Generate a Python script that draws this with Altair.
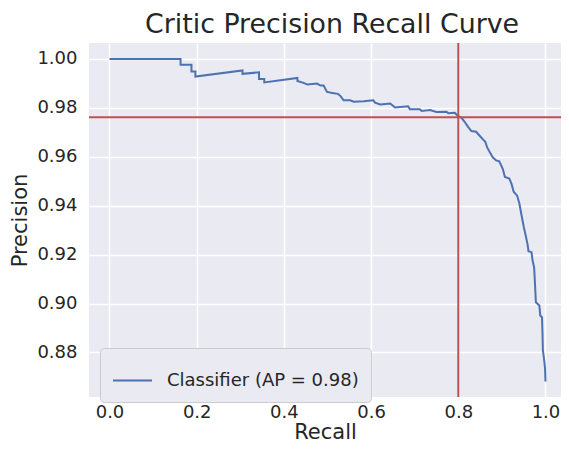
import altair as alt
import pandas as pd

recall = [0.000, 0.163, 0.163, 0.188, 0.188, 0.197, 0.197, 0.305, 0.305, 0.343,
          0.343, 0.355, 0.355, 0.431, 0.431, 0.445, 0.454, 0.476, 0.484, 0.491,
          0.499, 0.511, 0.524, 0.530, 0.537, 0.552, 0.560, 0.583, 0.605, 0.609,
          0.621, 0.644, 0.655, 0.685, 0.689, 0.712, 0.716, 0.735, 0.750, 0.773,
          0.777, 0.792, 0.799, 0.807, 0.815, 0.822, 0.830, 0.841, 0.849, 0.856,
          0.862, 0.866, 0.872, 0.879, 0.887, 0.894, 0.902, 0.907, 0.917, 0.922,
          0.927, 0.935, 0.940, 0.945, 0.950, 0.955, 0.959, 0.961, 0.968, 0.970,
          0.974, 0.976, 0.978, 0.986, 0.988, 0.992, 0.993, 0.994, 0.997, 0.999,
          1.000]
precision = [1.0000, 1.0000, 0.9976, 0.9976, 0.9949, 0.9949, 0.9928, 0.9953, 0.9939, 0.9945,
             0.9918, 0.9918, 0.9904, 0.9922, 0.9910, 0.9902, 0.9895, 0.9899, 0.9891, 0.9891,
             0.9865, 0.9861, 0.9857, 0.9848, 0.9831, 0.9831, 0.9825, 0.9827, 0.9831, 0.9821,
             0.9814, 0.9818, 0.9801, 0.9806, 0.9794, 0.9794, 0.9787, 0.9791, 0.9783, 0.9784,
             0.9778, 0.9780, 0.9767, 0.9760, 0.9742, 0.9723, 0.9705, 0.9702, 0.9686, 0.9672,
             0.9661, 0.9639, 0.9619, 0.9598, 0.9585, 0.9581, 0.9551, 0.9517, 0.9511, 0.9490,
             0.9457, 0.9441, 0.9410, 0.9362, 0.9315, 0.9275, 0.9241, 0.9214, 0.9210, 0.9180,
             0.9147, 0.9079, 0.9005, 0.8992, 0.8951, 0.8944, 0.8891, 0.8810, 0.8769, 0.8735,
             0.8681]
series_name = "Classifier (AP = 0.98)"
threshold_recall = [0.8]
threshold_precision = [0.9761]
x_ticks = [0.0, 0.2, 0.4, 0.6, 0.8, 1.0]
y_ticks = [0.88, 0.90, 0.92, 0.94, 0.96, 0.98, 1.00]

df = pd.DataFrame({"recall": recall, "precision": precision,
                   "order": list(range(len(recall))),
                   "series": [series_name] * len(recall)})
vdf = pd.DataFrame({"r": threshold_recall})
hdf = pd.DataFrame({"p": threshold_precision})

FONT = "DejaVu Sans"
TXT = "#262626"

xscale = alt.Scale(domain=[-0.047, 1.0356], nice=False, zero=False)
yscale = alt.Scale(domain=[0.8618, 1.0065], nice=False, zero=False)

line = alt.Chart(df).mark_line(strokeWidth=2, clip=True).encode(
    x=alt.X("recall:Q", scale=xscale, title="Recall",
            axis=alt.Axis(values=x_ticks, format=".1f", labelPadding=6, titlePadding=0)),
    y=alt.Y("precision:Q", scale=yscale, title="Precision",
            axis=alt.Axis(values=y_ticks, format=".2f", labelPadding=12, titlePadding=6)),
    order="order:Q",
    color=alt.Color("series:N", scale=alt.Scale(range=["#4c72b0"]),
                    legend=alt.Legend(title=None, orient="none", legendX=11, legendY=305,
                                      symbolType="stroke", symbolSize=1521, symbolStrokeWidth=2,
                                      labelFontSize=18, labelColor=TXT, labelFont=FONT,
                                      labelLimit=400, labelOffset=14, padding=12,
                                      fillColor="#eaeaf2", strokeColor="#cccccc",
                                      cornerRadius=4)),
)

vrule = alt.Chart(vdf).mark_rule(color="#c44e52", strokeWidth=2).encode(
    x=alt.X("r:Q", scale=xscale))
hrule = alt.Chart(hdf).mark_rule(color="#c44e52", strokeWidth=2).encode(
    y=alt.Y("p:Q", scale=yscale))

chart = alt.layer(line, vrule, hrule).properties(
    width=472, height=354,
    title=alt.Title("Critic Precision Recall Curve", fontSize=26.8, font=FONT,
                    fontWeight="normal", color=TXT, anchor="middle", offset=3,
                    baseline="top", frame="group", dx=7),
    autosize=alt.AutoSizeParams(type="none"),
    padding={"left": 81, "top": 35, "right": 0, "bottom": 45},
    background="white",
).configure_view(fill="#eaeaf2", stroke=None).configure_axis(
    grid=True, gridColor="white", gridWidth=1.5, domain=False, ticks=False,
    labelFont=FONT, labelFontSize=18, labelColor=TXT,
    titleFont=FONT, titleFontSize=21, titleFontWeight="normal", titleColor=TXT,
)

chart.save("out.html", embed_options={"renderer": "svg", "actions": False})
